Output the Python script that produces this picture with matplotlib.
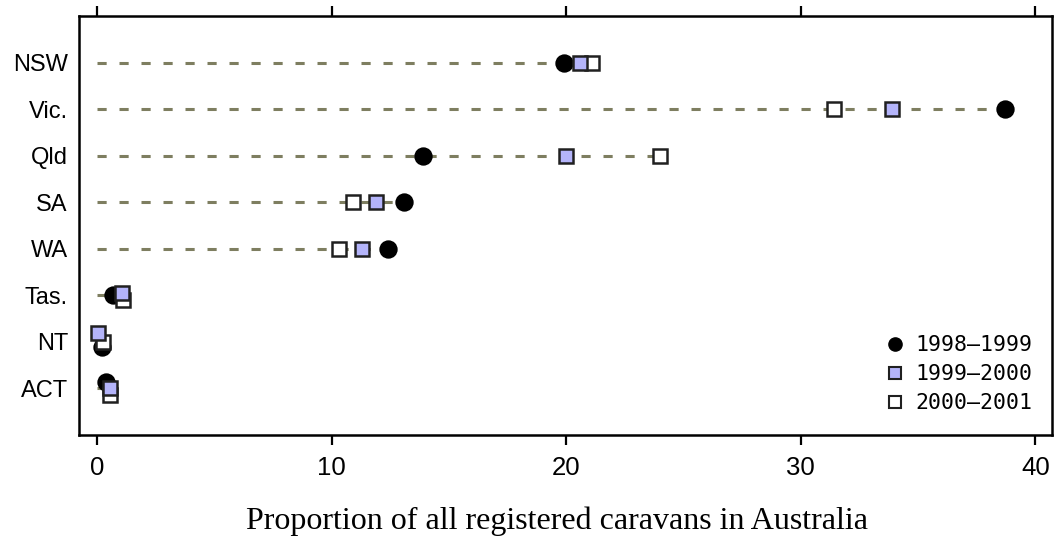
import numpy as np
import matplotlib.pyplot as plt
from matplotlib.lines import Line2D

# Caravan share by state, three financial years
states = ["NSW", "Vic.", "Qld", "SA", "WA", "Tas.", "NT", "ACT"]
years = ["1998\u20131999", "1999\u20132000", "2000\u20132001"]
share_9899 = [19.9, 38.7, 13.9, 13.1, 12.4, 0.7, 0.2, 0.4]
share_9900 = [20.6, 33.9, 20.0, 11.9, 11.3, 1.05, 0.05, 0.55]
share_0001 = [21.1, 31.4, 24.0, 10.9, 10.3, 1.1, 0.25, 0.55]

# small vertical dodge for rows where the dots pile up (per series)
dodge = {
    "Tas.": (0.0, -0.05, 0.10),
    "NT": (0.10, -0.20, 0.0),
    "ACT": (-0.13, 0.0, 0.15),
}

LINE_COL = "#7e7e60"
BLUE = "#b4b4fa"

fig = plt.figure(figsize=(10.56, 5.36), dpi=100)
ax = fig.add_axes([0.0748, 0.1884, 0.9212, 0.7816])

y = np.arange(len(states))
series = np.array([share_9899, share_9900, share_0001])

# dashed guide from 0 out to the largest value in each row
for i, s in enumerate(states):
    ax.plot([0, series[:, i].max()], [i, i], color=LINE_COL, lw=2.2,
            dashes=(3.0, 4.2), zorder=1, solid_capstyle="butt")

styles = [
    dict(marker="o", ms=12, mfc="black", mec="black", mew=1.2, zorder=3),
    dict(marker="s", ms=10, mfc=BLUE, mec="#202020", mew=1.8, zorder=5),
    dict(marker="s", ms=10, mfc="white", mec="#202020", mew=1.8, zorder=4),
]
for k, vals in enumerate(series):
    ys = [i + dodge.get(s, (0, 0, 0))[k] for i, s in enumerate(states)]
    ax.plot(vals, ys, ls="none", **styles[k])

ax.set_xlim(-0.77, 40.7)
ax.set_ylim(8, -1)
ax.set_xticks([0, 10, 20, 30, 40])
ax.set_yticks(y)
ax.set_yticklabels(states)
ax.tick_params(axis="x", which="both", direction="out", length=7, width=1.6,
               top=True, labeltop=False, pad=8, labelsize=18.5)
ax.tick_params(axis="y", length=0, pad=8, labelsize=17)
for lab in ax.get_xticklabels() + ax.get_yticklabels():
    lab.set_fontfamily("Liberation Sans")
for sp in ax.spines.values():
    sp.set_linewidth(1.8)

fig.text(557 / 1056, 0.013, "Proportion of all registered caravans in Australia",
         ha="center", va="baseline", fontfamily="Liberation Serif", fontsize=23)

handles = [
    Line2D([], [], ls="none", marker="o", ms=9.5, mfc="black", mec="black"),
    Line2D([], [], ls="none", marker="s", ms=8, mfc=BLUE, mec="#202020", mew=1.5),
    Line2D([], [], ls="none", marker="s", ms=8, mfc="white", mec="#202020", mew=1.5),
]
ax.legend(handles, years, loc="lower right", bbox_to_anchor=(1.0, 0.006),
          frameon=False, handletextpad=0.45, handlelength=1.0, labelspacing=0.42,
          prop={"family": "DejaVu Sans Mono", "size": 15.5})

fig.savefig("out.png", dpi=100)
